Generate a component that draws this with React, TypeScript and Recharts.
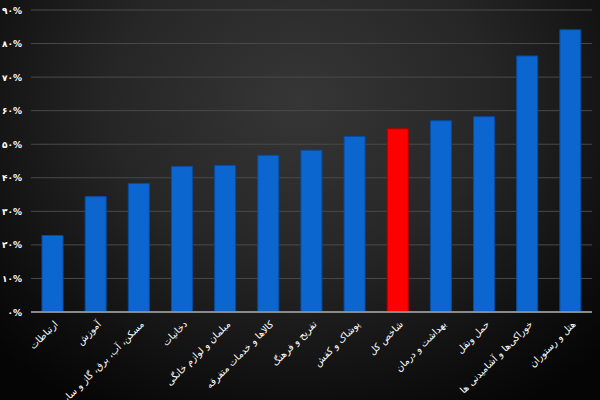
import React from "react";
import { BarChart, Bar, XAxis, YAxis, CartesianGrid, Cell } from "recharts";

const categories = [
  "ارتباطات",
  "آموزش",
  "مسکن، آب، برق، گاز و سایر سوخت‌ها",
  "دخانیات",
  "مبلمان و لوازم خانگی",
  "کالاها و خدمات متفرقه",
  "تفریح و فرهنگ",
  "پوشاک و کفش",
  "شاخص کل",
  "بهداشت و درمان",
  "حمل ونقل",
  "خوراکی‌ها و آشامیدنی ها",
  "هتل و رستوران",
];
const values = [22.8, 34.4, 38.3, 43.4, 43.7, 46.7, 48.2, 52.3, 54.6, 57.0, 58.2, 76.3, 84.1];
const highlight = "شاخص کل";
const yTicks = [0, 10, 20, 30, 40, 50, 60, 70, 80, 90];

const data = categories.map((c, i) => ({ name: c, value: values[i] }));

const toPersian = (n: number) =>
  String(n).replace(/[0-9]/g, (d) => "۰۱۲۳۴۵۶۷۸۹"[Number(d)]);

const XTick = (props: any) => {
  const { x, y, payload } = props;
  return (
    <g transform={`translate(${x + 3},${y + 2})`}>
      <text
        transform="rotate(-45)"
        textAnchor="end"
        fill="#ffffff"
        fontSize={9.6}
        fontFamily="DejaVu Sans"
        dy={4}
      >
        {payload.value}
      </text>
    </g>
  );
};

const YTick = (props: any) => {
  const { y, payload } = props;
  return (
    <text
      x={22}
      y={y}
      dy={3.5}
      textAnchor="end"
      fill="#ffffff"
      fontSize={9}
      fontWeight="bold"
      fontFamily="DejaVu Sans"
    >
      {toPersian(payload.value) + "%"}
    </text>
  );
};

export default function App() {
  return (
    <div
      style={{
        position: "absolute",
        left: 0,
        top: 0,
        width: 600,
        height: 400,
        background:
          "radial-gradient(ellipse 70% 90% at 50% 25%, #363636 0%, #262626 45%, #0d0d0d 85%, #050505 100%)",
      }}
    >
      <BarChart
        width={600}
        height={400}
        data={data}
        margin={{ top: 10, right: 8, left: 0, bottom: 0 }}
        barSize={21}
      >
        <CartesianGrid vertical={false} stroke="#4a4a4a" strokeWidth={1} />
        <XAxis
          dataKey="name"
          interval={0}
          height={88}
          tick={<XTick />}
          tickLine={false}
          axisLine={{ stroke: "#8a8a8a", strokeWidth: 2 }}
        />
        <YAxis
          width={31}
          domain={[0, 90]}
          ticks={yTicks}
          tick={<YTick />}
          tickLine={false}
          axisLine={false}
        />
        <Bar dataKey="value" isAnimationActive={false} stroke="#0a4aa0" strokeWidth={1}>
          {data.map((d, i) => (
            <Cell
              key={i}
              fill={d.name === highlight ? "#ff0000" : "#0b66d0"}
              stroke={d.name === highlight ? "#b00000" : "#0a4aa0"}
            />
          ))}
        </Bar>
      </BarChart>
    </div>
  );
}
